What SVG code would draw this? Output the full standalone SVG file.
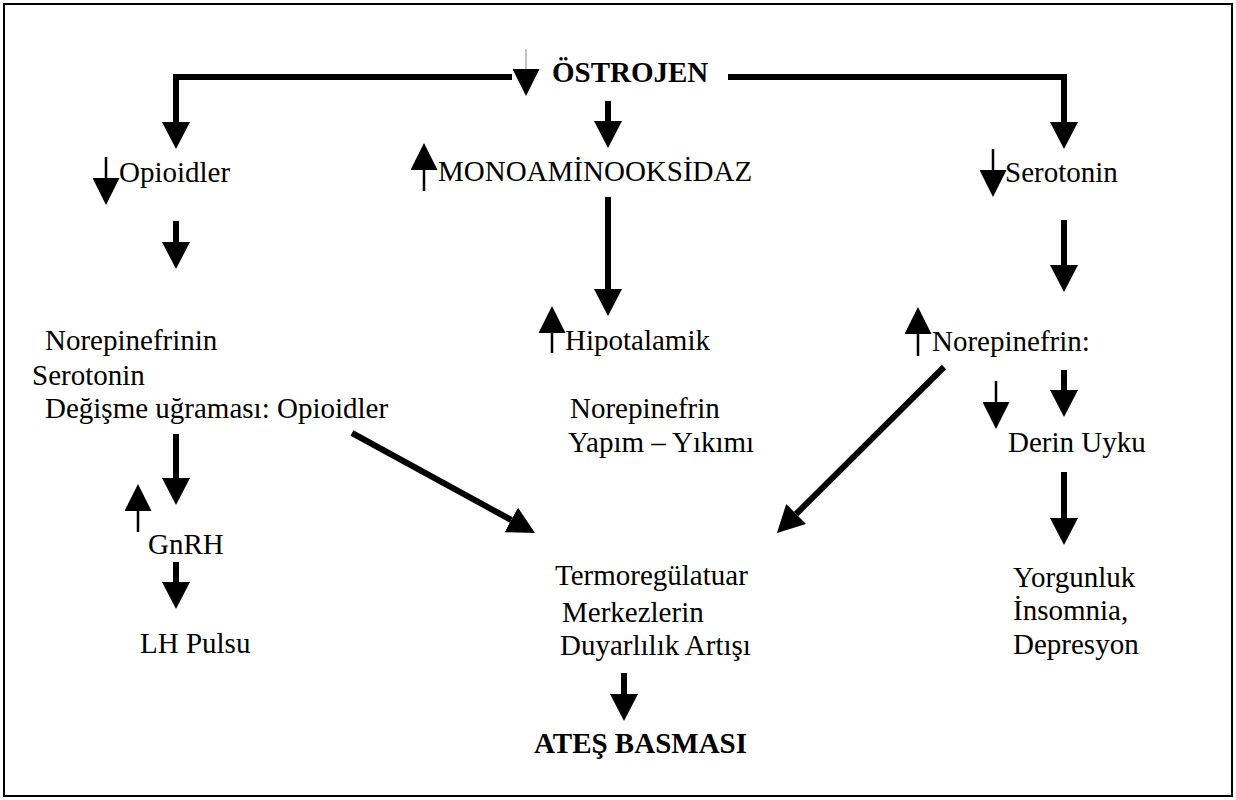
<svg xmlns="http://www.w3.org/2000/svg" width="1236" height="800" viewBox="0 0 1236 800">
<style>
text{font-family:"Liberation Serif","Times New Roman",serif;font-size:29px;fill:#000}
.b{font-weight:bold}
.thick{fill:none;stroke:#000;stroke-width:6;stroke-linejoin:miter}
.thin{fill:none;stroke:#000;stroke-width:2.5}
.gray{fill:none;stroke:#999;stroke-width:1.2}
</style>
<defs>
<marker id="ah" markerUnits="userSpaceOnUse" markerWidth="27" markerHeight="28" viewBox="0 0 27 28" refX="0" refY="14" orient="auto"><path d="M0,0 L27,14 L0,28 z" fill="#000"/></marker>
<marker id="sh" markerUnits="userSpaceOnUse" markerWidth="27" markerHeight="27" viewBox="0 0 27 27" refX="0" refY="13.5" orient="auto"><path d="M0,0 L27,13.5 L0,27 z" fill="#000"/></marker>
</defs>
<rect x="4" y="4" width="1228" height="792" fill="#fff" stroke="#000" stroke-width="2"/>
<g id="connectors">
<path class="thick" d="M512,77 H176 V122" marker-end="url(#ah)"/>
<path class="thick" d="M728,77 H1064 V122" marker-end="url(#ah)"/>
<path class="thick" d="M608,101 V121" marker-end="url(#ah)"/>
<path class="thick" d="M176,221 V242" marker-end="url(#ah)"/>
<path class="thick" d="M608,197 V289" marker-end="url(#ah)"/>
<path class="thick" d="M1064,220 V265" marker-end="url(#ah)"/>
<path class="thick" d="M1064,370 V390" marker-end="url(#ah)"/>
<path class="thick" d="M1064,472 V518" marker-end="url(#ah)"/>
<path class="thick" d="M176,434 V478" marker-end="url(#ah)"/>
<path class="thick" d="M176,562 V582" marker-end="url(#ah)"/>
<path class="thick" d="M624,673 V694" marker-end="url(#ah)"/>
<path class="thick" d="M352,433 L511.3,520" marker-end="url(#ah)"/>
<path class="thick" d="M944,367 L796.1,514" marker-end="url(#ah)"/>
</g>
<g id="ostrojen">
<path class="gray" d="M526,49 V69" marker-end="url(#sh)"/>
<text class="b" x="552" y="82">ÖSTROJEN</text>
</g>
<g id="opioidler">
<path class="thin" d="M106,157 V178" marker-end="url(#sh)"/>
<text x="119" y="182">Opioidler</text>
</g>
<g id="monoaminooksidaz">
<path class="thin" d="M424,191 V170" marker-end="url(#sh)"/>
<text x="438" y="181">MONOAMİNOOKSİDAZ</text>
</g>
<g id="serotonin">
<path class="thin" d="M993,149 V170" marker-end="url(#sh)"/>
<text x="1005" y="182">Serotonin</text>
</g>
<g id="norepinefrinin">
<text x="45" y="350">Norepinefrinin</text>
<text x="32" y="385">Serotonin</text>
<text x="45" y="418">Değişme uğraması: Opioidler</text>
</g>
<g id="hipotalamik">
<path class="thin" d="M552,353 V333" marker-end="url(#sh)"/>
<text x="565" y="350">Hipotalamik</text>
<text x="570" y="418">Norepinefrin</text>
<text x="568" y="452">Yapım – Yıkımı</text>
</g>
<g id="norepinefrin">
<path class="thin" d="M918,356 V334" marker-end="url(#sh)"/>
<text x="932" y="351">Norepinefrin:</text>
</g>
<g id="derin-uyku">
<path class="thin" d="M996,381 V402" marker-end="url(#sh)"/>
<text x="1008" y="452">Derin Uyku</text>
</g>
<g id="gnrh">
<path class="thin" d="M138,532 V511" marker-end="url(#sh)"/>
<text x="148" y="554">GnRH</text>
</g>
<g id="lh-pulsu">
<text x="140" y="653">LH Pulsu</text>
</g>
<g id="termoregulatuar">
<text x="555" y="585">Termoregülatuar</text>
<text x="562" y="622">Merkezlerin</text>
<text x="560" y="655">Duyarlılık Artışı</text>
</g>
<g id="ates-basmasi">
<text class="b" x="534" y="753">ATEŞ BASMASI</text>
</g>
<g id="yorgunluk">
<text x="1013" y="587">Yorgunluk</text>
<text x="1013" y="620">İnsomnia,</text>
<text x="1013" y="654">Depresyon</text>
</g>
</svg>
